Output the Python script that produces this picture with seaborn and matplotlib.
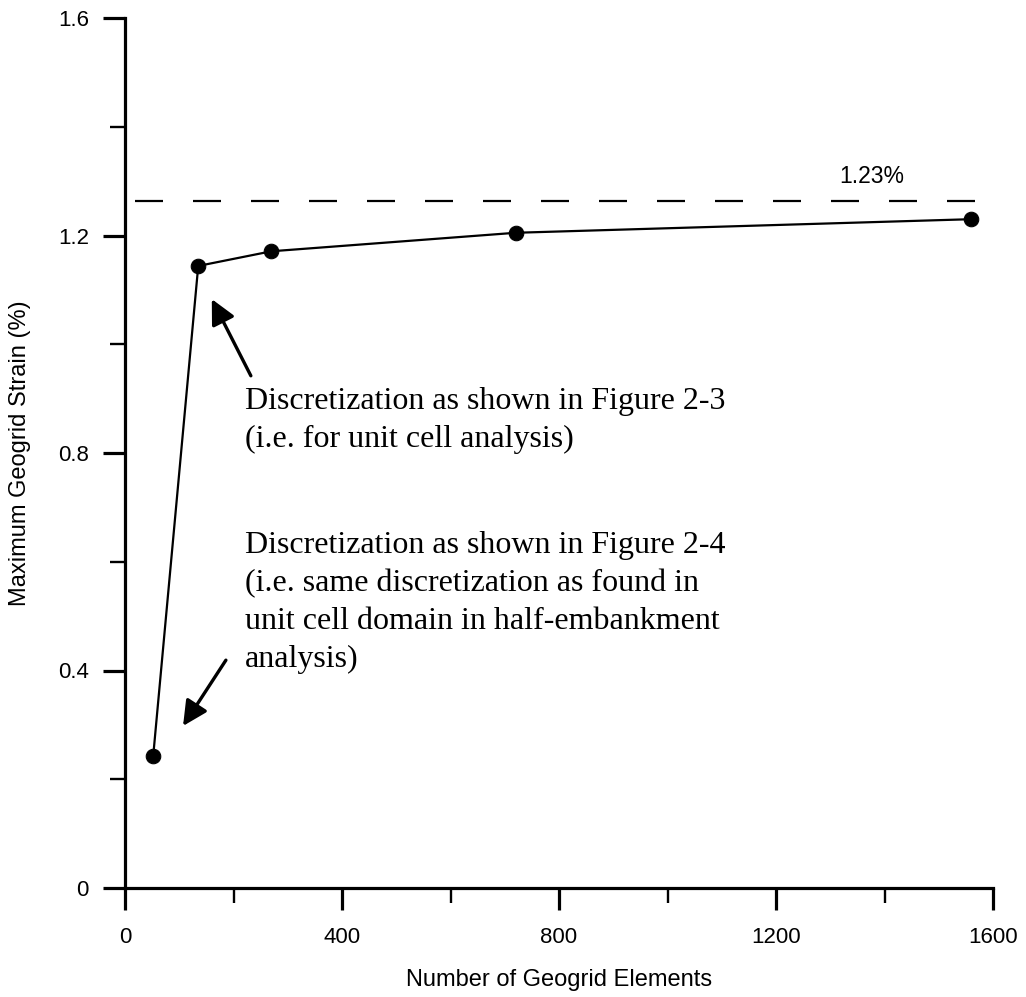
import matplotlib
matplotlib.use("Agg")
import matplotlib.pyplot as plt
from matplotlib.ticker import MultipleLocator
import seaborn as sns
import pandas as pd

# Mesh-convergence results
n_elements = [52, 135, 270, 720, 1560]
max_strain = [0.243, 1.144, 1.171, 1.205, 1.230]

# Converged reference level and its label
ref_level = 1.263
ref_span = [18, 1566]
ref_label = "1.23%"

xlabel = "Number of Geogrid Elements"
ylabel = "Maximum Geogrid Strain (%)"
x_ticks = [0, 400, 800, 1200, 1600]
y_ticks = [0, 0.4, 0.8, 1.2, 1.6]
y_ticklabels = ["0", "0.4", "0.8", "1.2", "1.6"]

note_a = ["Discretization as shown in Figure 2-3",
          "(i.e. for unit cell analysis)"]
note_b = ["Discretization as shown in Figure 2-4",
          "(i.e. same discretization as found in",
          "unit cell domain in half-embankment",
          "analysis)"]

sns.set_style("ticks")
plt.rcParams["font.family"] = ["Liberation Sans", "DejaVu Sans"]

df = pd.DataFrame({"elements": n_elements, "strain": max_strain})

fig = plt.figure(figsize=(10.26, 9.97), dpi=100)
ax = fig.add_axes([125 / 1026, 1 - 888 / 997, 868 / 1026, 870 / 997])

sns.lineplot(data=df, x="elements", y="strain", ax=ax, color="black",
             linewidth=1.6, marker="o", markersize=10.5,
             markeredgecolor="black", markerfacecolor="black")

ax.plot(ref_span, [ref_level, ref_level], color="black", linewidth=1.6,
        linestyle=(0, (12.6, 13.5)))
ax.text(1377, 1.297, ref_label, ha="center", va="baseline", fontsize=16.5,
        color="black")

ax.set_xlim(0, 1600)
ax.set_ylim(0, 1.6)
ax.set_xticks(x_ticks)
ax.set_yticks(y_ticks)
ax.set_yticklabels(y_ticklabels)
ax.xaxis.set_minor_locator(MultipleLocator(200))
ax.yaxis.set_minor_locator(MultipleLocator(0.2))

sns.despine(ax=ax)
for side in ("left", "bottom"):
    ax.spines[side].set_linewidth(2.3)
    ax.spines[side].set_color("black")

ax.tick_params(which="major", length=16, width=2.3, color="black",
               labelsize=16, labelcolor="black")
ax.tick_params(axis="x", which="major", pad=12)
ax.tick_params(axis="y", which="major", pad=10)
ax.tick_params(which="minor", length=11, width=1.7, color="black")

ax.set_xlabel(xlabel, fontsize=17, labelpad=15, color="black")
ax.set_ylabel(ylabel, fontsize=17, labelpad=19, color="black")

serif = ["Liberation Serif", "DejaVu Serif"]
step = 0.0699
for i, line in enumerate(note_a):
    ax.text(221, 0.881 - i * step, line, ha="left", va="baseline",
            fontsize=23, family=serif, color="black")
for i, line in enumerate(note_b):
    ax.text(221, 0.616 - i * step, line, ha="left", va="baseline",
            fontsize=23, family=serif, color="black")

arrow = dict(arrowstyle="-|>,head_length=0.5,head_width=0.25",
             mutation_scale=30, lw=2.4, color="black",
             shrinkA=0, shrinkB=0)
ax.annotate("", xy=(160, 1.083), xytext=(232, 0.942), arrowprops=arrow)
ax.annotate("", xy=(107, 0.298), xytext=(186, 0.419), arrowprops=arrow)

for art in ax.lines:
    art.set_clip_on(False)

fig.savefig("out.png", dpi=100)
